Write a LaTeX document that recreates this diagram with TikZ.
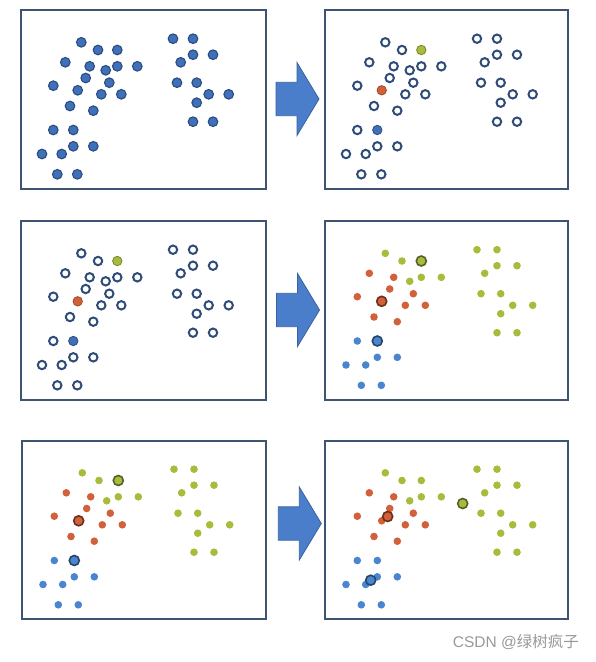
\documentclass[tikz,border=0pt]{standalone}
\usepackage{fontspec}
\newfontfamily\cjk{Noto Sans CJK SC}
\newfontfamily\latinf{Liberation Sans}
\definecolor{frame}{HTML}{3E5470}
\definecolor{dotfill}{HTML}{3F70B8}
\definecolor{dotline}{HTML}{2B4C80}
\definecolor{ringc}{HTML}{2F4B78}
\definecolor{gfill}{HTML}{A8BC3C}
\definecolor{rfill}{HTML}{D2603A}
\definecolor{bfill}{HTML}{4A86CF}
\definecolor{gline}{HTML}{55602A}
\definecolor{rline}{HTML}{6E2E1C}
\definecolor{bline}{HTML}{2A4468}
\definecolor{arrfill}{HTML}{4A7ECB}
\definecolor{arrline}{HTML}{3A62A0}
\tikzset{
  panel/.style={draw=frame,line width=2pt,fill=white},
  dotA/.style={fill=dotfill,draw=dotline,line width=1.1pt},
  hollow/.style={fill=white,draw=ringc,line width=2pt},
  bigg/.style={fill=gfill,draw=gfill!70!black,line width=0.8pt},
  bigr/.style={fill=rfill,draw=rfill!75!black,line width=0.8pt},
  bigb/.style={fill=dotfill,draw=dotline,line width=0.8pt},
  smallg/.style={fill=gfill,draw=none},
  smallr/.style={fill=rfill,draw=none},
  smallb/.style={fill=bfill,draw=none},
  centg/.style={fill=gfill,draw=gline,line width=1.6pt},
  centr/.style={fill=rfill,draw=rline,line width=1.6pt},
  centb/.style={fill=bfill,draw=bline,line width=1.6pt},
  arr/.style={fill=arrfill,draw=arrline,line width=0.8pt,line join=miter},
}
\def\pts{60.3/32.3/g,77/40/g,96.3/40/g,44.3/52.3/r,68.7/56.3/r,84.7/60.3/g,96.3/56.3/g,116.3/56.3/g,64.7/68/r,88.3/72.7/r,32.3/75.7/r,56.7/80.3/r,80.3/84.3/r,100.3/84.3/r,49/96/r,72.3/100.7/r,32.3/120/b,52.3/120/b,52.3/136.3/b,72.3/136.3/b,21/144/b,40.7/144/b,36.3/164.3/b,56.3/164.3/b,152/28.7/g,172/28.7/g,172/44.7/g,192/44.7/g,159.7/52.3/g,156/72.7/g,175.7/72.7/g,187.7/84.3/g,207.7/84.3/g,175.7/92.7/g,172/111.7/g,192/111.7/g}
\newcommand\myblockarrow[2]{%
  \begin{scope}[shift={(#1,#2)}]
    \draw[arr] (0,-16.7) -- (21,-16.7) -- (21,-36.5) -- (43,0) -- (21,36.5) -- (21,16.7) -- (0,16.7) -- cycle;
  \end{scope}}
\begin{document}
\begin{tikzpicture}[x=1pt,y=-1pt]
\useasboundingbox[fill=white] (0,0) rectangle (595,662);
% panel A
\begin{scope}[shift={(21,10)}]
  \draw[panel] (0,0) rectangle (245,179);
  \foreach \px/\py/\g in \pts {\draw[dotA] (\px,\py) circle[radius=4.8];}
\end{scope}
% panel B
\begin{scope}[shift={(325,10)}]
  \draw[panel] (0,0) rectangle (243,179);
  \foreach \px/\py/\g [count=\i] in \pts {
    \pgfmathtruncatemacro\sel{(\i==3)||(\i==12)||(\i==18)}
    \ifnum\sel=1 \draw[big\g] (\px,\py) circle[radius=4.7];
    \else \draw[hollow] (\px,\py) circle[radius=4.2]; \fi}
\end{scope}
% panel C
\begin{scope}[shift={(21,221)}]
  \draw[panel] (0,0) rectangle (245,179);
  \foreach \px/\py/\g [count=\i] in \pts {
    \pgfmathtruncatemacro\sel{(\i==3)||(\i==12)||(\i==18)}
    \ifnum\sel=1 \draw[big\g] (\px,\py) circle[radius=4.7];
    \else \draw[hollow] (\px,\py) circle[radius=4.2]; \fi}
\end{scope}
% panel D
\begin{scope}[shift={(325,221)}]
  \draw[panel] (0,0) rectangle (243,179);
  \foreach \px/\py/\g [count=\i] in \pts {
    \pgfmathtruncatemacro\sel{(\i==3)||(\i==12)||(\i==18)}
    \ifnum\sel=1 \draw[cent\g] (\px,\py) circle[radius=5];
    \else \fill[small\g] (\px,\py) circle[radius=3.8]; \fi}
\end{scope}
% panel E
\begin{scope}[shift={(22,440.5)}]
  \draw[panel] (0,0) rectangle (244,178.5);
  \foreach \px/\py/\g [count=\i] in \pts {
    \pgfmathtruncatemacro\sel{(\i==3)||(\i==12)||(\i==18)}
    \ifnum\sel=1 \draw[cent\g] (\px,\py) circle[radius=5];
    \else \fill[small\g] (\px,\py) circle[radius=3.8]; \fi}
\end{scope}
% panel F
\begin{scope}[shift={(325,440.5)}]
  \draw[panel] (0,0) rectangle (243,178.5);
  \foreach \px/\py/\g in \pts {\fill[small\g] (\px,\py) circle[radius=3.8];}
  \draw[centg] (137.7,63) circle[radius=5];
  \draw[centr] (62.7,76) circle[radius=5];
  \draw[centb] (45.7,139.7) circle[radius=5];
\end{scope}
% arrows
\myblockarrow{276}{99}
\myblockarrow{276.5}{310}
\myblockarrow{278.3}{523.5}
% watermark
\node[text=black!40, font=\fontsize{15.5}{18}\selectfont, anchor=east, inner sep=0pt] (wm) at (579,642) {\latinf CSDN @\cjk 绿树疯子};
\end{tikzpicture}
\end{document}
